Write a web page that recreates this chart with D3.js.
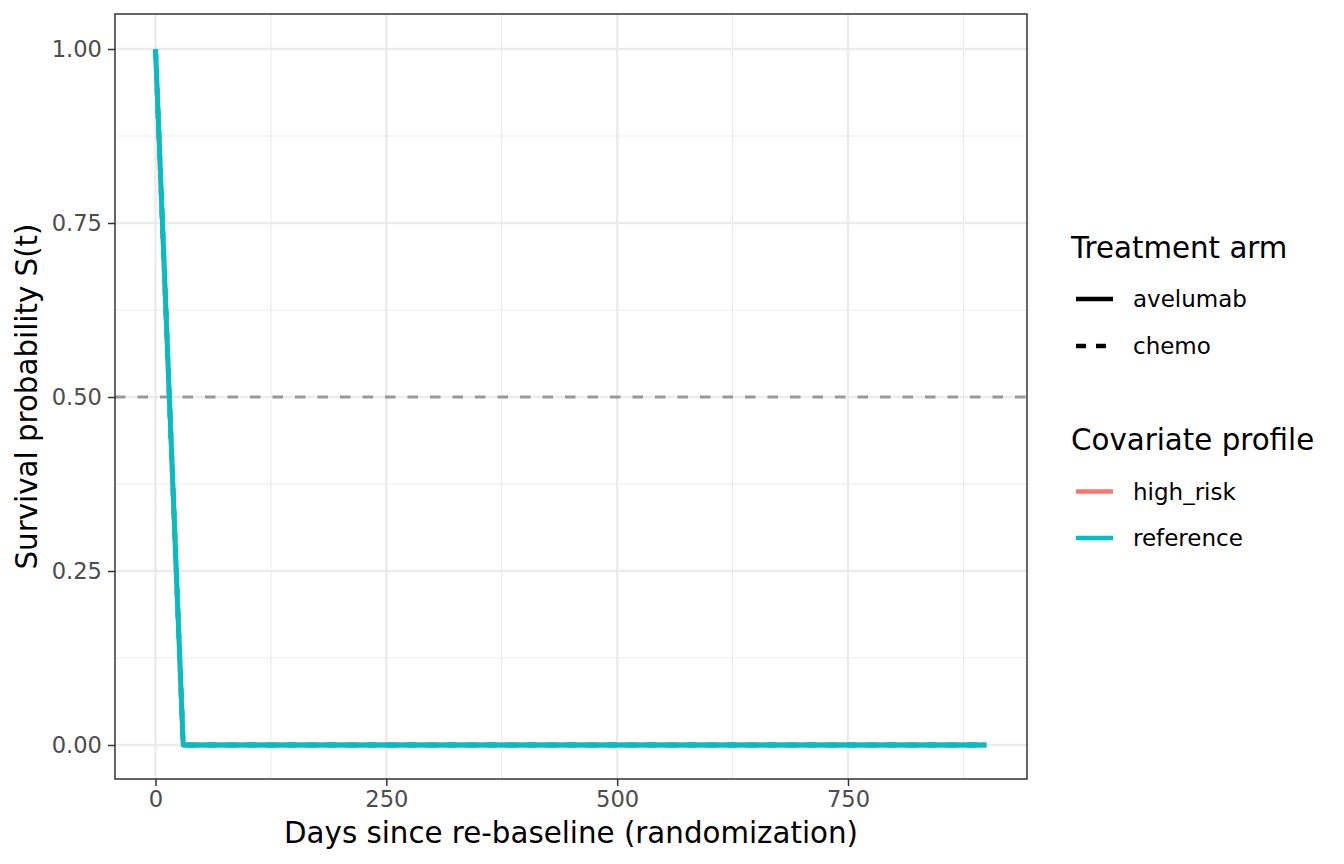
<!DOCTYPE html>
<html>
<head>
<meta charset="utf-8">
<script src="https://cdn.jsdelivr.net/npm/d3@7"></script>
<style>
  body { margin: 0; background: #ffffff; }
  text { font-family: "DejaVu Sans", sans-serif; }
</style>
</head>
<body>
<div id="chart"></div>
<script>
// data
var days = [0, 30, 100, 200, 300, 400, 500, 600, 700, 800, 900];
var avelumabHighRisk  = [1, 0, 0, 0, 0, 0, 0, 0, 0, 0, 0];
var avelumabReference = [1, 0, 0, 0, 0, 0, 0, 0, 0, 0, 0];
var chemoHighRisk     = [1, 0, 0, 0, 0, 0, 0, 0, 0, 0, 0];
var chemoReference    = [1, 0, 0, 0, 0, 0, 0, 0, 0, 0, 0];

var arms = ["avelumab", "chemo"];
var profiles = ["high_risk", "reference"];
var xTicks = [0, 250, 500, 750];
var xMinor = [125, 375, 625, 875];
var yTicks = [0, 0.25, 0.5, 0.75, 1];
var yMinor = [0.125, 0.375, 0.625, 0.875];
var medianLine = 0.5;

var series = [
    {arm: "avelumab", profile: "high_risk", values: avelumabHighRisk},
    {arm: "chemo",    profile: "high_risk", values: chemoHighRisk},
    {arm: "avelumab", profile: "reference", values: avelumabReference},
    {arm: "chemo",    profile: "reference", values: chemoReference}
];

var width = 1344, height = 864;
var panel = {left: 115, right: 1027, top: 14, bottom: 779};

var color = d3.scaleOrdinal().domain(profiles).range(["#F8766D", "#00BFC4"]);
var dash = d3.scaleOrdinal().domain(arms).range(["none", "10,10"]);

var x = d3.scaleLinear().domain([0, 900]).range([155.5, 986.5]);
var y = d3.scaleLinear().domain([0, 1]).range([745, 49]);

var svg = d3.select("#chart").append("svg")
    .attr("width", width)
    .attr("height", height);

// panel background + grid
svg.append("rect")
    .attr("x", panel.left).attr("y", panel.top)
    .attr("width", panel.right - panel.left)
    .attr("height", panel.bottom - panel.top)
    .attr("fill", "#ffffff");

var grid = svg.append("g");
grid.selectAll(".xminor").data(xMinor).enter().append("line")
    .attr("x1", function(d) { return x(d); }).attr("x2", function(d) { return x(d); })
    .attr("y1", panel.top).attr("y2", panel.bottom)
    .attr("stroke", "#ebebeb").attr("stroke-width", 1.2);
grid.selectAll(".yminor").data(yMinor).enter().append("line")
    .attr("y1", function(d) { return y(d); }).attr("y2", function(d) { return y(d); })
    .attr("x1", panel.left).attr("x2", panel.right)
    .attr("stroke", "#ebebeb").attr("stroke-width", 1.2);
grid.selectAll(".xmajor").data(xTicks).enter().append("line")
    .attr("x1", function(d) { return x(d); }).attr("x2", function(d) { return x(d); })
    .attr("y1", panel.top).attr("y2", panel.bottom)
    .attr("stroke", "#ebebeb").attr("stroke-width", 2.4);
grid.selectAll(".ymajor").data(yTicks).enter().append("line")
    .attr("y1", function(d) { return y(d); }).attr("y2", function(d) { return y(d); })
    .attr("x1", panel.left).attr("x2", panel.right)
    .attr("stroke", "#ebebeb").attr("stroke-width", 2.4);

// median reference line
svg.append("line")
    .attr("x1", panel.left).attr("x2", panel.right)
    .attr("y1", y(medianLine)).attr("y2", y(medianLine))
    .attr("stroke", "#999999")
    .attr("stroke-width", 3)
    .attr("stroke-dasharray", "10.5,12");

// survival curves
var line = d3.line()
    .x(function(d, i) { return x(days[i]); })
    .y(function(d) { return y(d); });

svg.append("g").selectAll("path")
    .data(series)
    .enter().append("path")
    .attr("d", function(d) { return line(d.values); })
    .attr("fill", "none")
    .attr("stroke", function(d) { return color(d.profile); })
    .attr("stroke-width", 4.8)
    .attr("stroke-dasharray", function(d) { return dash(d.arm); })
    .attr("stroke-linejoin", "round");

// panel border
svg.append("rect")
    .attr("x", panel.left).attr("y", panel.top)
    .attr("width", panel.right - panel.left)
    .attr("height", panel.bottom - panel.top)
    .attr("fill", "none")
    .attr("stroke", "#333333")
    .attr("stroke-width", 1.5);

// axes
var xAxis = svg.append("g")
    .attr("transform", "translate(0," + panel.bottom + ")")
    .call(d3.axisBottom(x).tickValues(xTicks).tickSize(7).tickPadding(5)
        .tickFormat(d3.format("d")));
var yAxis = svg.append("g")
    .attr("transform", "translate(" + panel.left + ",0)")
    .call(d3.axisLeft(y).tickValues(yTicks).tickSize(7).tickPadding(6)
        .tickFormat(d3.format(".2f")));

[xAxis, yAxis].forEach(function(a) {
    a.select(".domain").remove();
    a.selectAll(".tick line").attr("stroke", "#333333").attr("stroke-width", 1.5);
    a.selectAll(".tick text")
        .attr("fill", "#4d4d4d")
        .attr("font-size", 22.6)
        .attr("font-family", "DejaVu Sans");
});

svg.append("text")
    .attr("x", (panel.left + panel.right) / 2)
    .attr("y", 843)
    .attr("text-anchor", "middle")
    .attr("font-size", 29.3)
    .attr("fill", "#000000")
    .text("Days since re-baseline (randomization)");

svg.append("text")
    .attr("transform", "translate(37," + (panel.top + panel.bottom) / 2 + ") rotate(-90)")
    .attr("text-anchor", "middle")
    .attr("font-size", 29.3)
    .attr("fill", "#000000")
    .text("Survival probability S(t)");

// legends
var legend = svg.append("g");

legend.append("text")
    .attr("x", 1071).attr("y", 258)
    .attr("font-size", 29.3)
    .text("Treatment arm");

var armKey = legend.selectAll(".arm").data(arms).enter().append("g")
    .attr("transform", function(d, i) { return "translate(0," + (299 + i * 47) + ")"; });
armKey.append("line")
    .attr("x1", 1076).attr("x2", 1113)
    .attr("stroke", "#000000")
    .attr("stroke-width", 4.5)
    .attr("stroke-dasharray", function(d) { return dash(d); });
armKey.append("text")
    .attr("x", 1133).attr("y", 8)
    .attr("font-size", 23)
    .text(function(d) { return d; });

legend.append("text")
    .attr("x", 1071).attr("y", 450)
    .attr("font-size", 29.3)
    .text("Covariate profile");

var profKey = legend.selectAll(".prof").data(profiles).enter().append("g")
    .attr("transform", function(d, i) { return "translate(0," + (491.5 + i * 46.5) + ")"; });
profKey.append("line")
    .attr("x1", 1076).attr("x2", 1113)
    .attr("stroke", function(d) { return color(d); })
    .attr("stroke-width", 4.5);
profKey.append("text")
    .attr("x", 1133).attr("y", 8)
    .attr("font-size", 23)
    .text(function(d) { return d; });
</script>
</body>
</html>
